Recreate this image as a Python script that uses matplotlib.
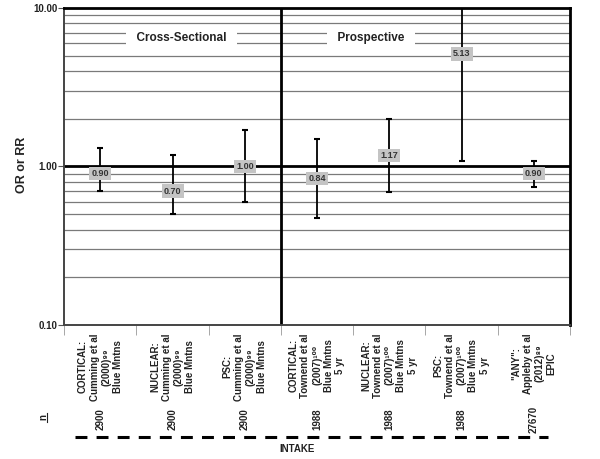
import numpy as np
import matplotlib
matplotlib.use('Agg')
import matplotlib.pyplot as plt
from matplotlib.ticker import LogLocator, FixedLocator, NullFormatter
from matplotlib.transforms import blended_transform_factory
from matplotlib.lines import Line2D

plt.rcParams['font.family'] = ['Liberation Sans', 'DejaVu Sans']

# study labels, sizes and estimates
labels = [
    "CORTICAL:\nCumming et al\n(2000)⁹⁹\nBlue Mntns",
    "NUCLEAR:\nCumming et al\n(2000)⁹⁹\nBlue Mntns",
    "PSC:\nCumming et al\n(2000)⁹⁹\nBlue Mntns",
    "CORTICAL:\nTownend et al\n(2007)¹⁰⁰\nBlue Mntns\n5 yr",
    "NUCLEAR:\nTownend et al\n(2007)¹⁰⁰\nBlue Mntns\n5 yr",
    "PSC:\nTownend et al\n(2007)¹⁰⁰\nBlue Mntns\n5 yr",
    "\"ANY\":\nAppleby et al\n(2012)⁸⁹\nEPIC",
]
n_vals = ["2900", "2900", "2900", "1988", "1988", "1988", "27670"]
est = [0.90, 0.70, 1.00, 0.84, 1.17, 5.13, 0.90]
lo = [0.70, 0.50, 0.60, 0.47, 0.69, 1.08, 0.74]
hi = [1.30, 1.19, 1.70, 1.50, 1.98, 10.0, 1.08]
sections = ["Cross-Sectional", "Prospective"]
section_x = [1.12, 3.75]

fig = plt.figure(figsize=(6, 4.59), dpi=100)
ax = fig.add_axes([0.107, 0.292, 0.843, 0.6906])

x = np.arange(len(est))
ax.set_yscale('log')
ax.set_ylim(0.1, 10)
ax.set_xlim(-0.5, len(est) - 0.5)

# gridlines
ax.yaxis.set_minor_locator(LogLocator(base=10, subs=np.arange(2, 10)))
ax.yaxis.set_minor_formatter(NullFormatter())
ax.grid(which='minor', axis='y', color='#7a7a7a', linewidth=0.9)
ax.axhline(1.0, color='black', linewidth=2, zorder=2)
ax.axvline(2.5, color='black', linewidth=2, zorder=2)

# error bars
yerr = [np.array(est) - np.array(lo), np.array(hi) - np.array(est)]
ax.errorbar(x, est, yerr=yerr, fmt='none', ecolor='black', elinewidth=1.3,
            capsize=2.5, capthick=1.5, zorder=3)
for i in range(len(est)):
    ax.text(x[i], est[i], "%.2f" % est[i], ha='center', va='center',
            fontsize=6.5, fontweight='bold', color='#333333', zorder=4,
            bbox=dict(boxstyle='square,pad=0.25', facecolor='#c4c4c4', edgecolor='none'))

# section headers
for s, sx in zip(sections, section_x):
    ax.text(sx, 6.5, "  " + s + "  ", ha='center', va='center', fontsize=8.5,
            fontweight='bold', color='#222222', zorder=4,
            bbox=dict(boxstyle='square,pad=0.35', facecolor='white', edgecolor='none'))

# ticks
ax.yaxis.set_major_locator(FixedLocator([0.1, 1, 10]))
ax.set_yticklabels(["0.10", "1.00", "10.00"], fontsize=7, fontweight='bold', color='#222222')
ax.tick_params(axis='y', which='major', length=4, width=0.8, color='#555555', pad=1)
ax.tick_params(axis='y', which='minor', length=0)
ax.set_xticks([])
ax.set_xticks(np.arange(-0.5, len(est)), minor=True)
ax.tick_params(axis='x', which='minor', length=7, width=0.6, color='#999999')

for side in ['top', 'right']:
    ax.spines[side].set_linewidth(2)
    ax.spines[side].set_color('black')
ax.spines['left'].set_linewidth(1.4)
ax.spines['left'].set_color('#444444')
ax.spines['bottom'].set_linewidth(1.4)
ax.spines['bottom'].set_color('#444444')

fig.text(0.037, 0.64, "OR or RR", rotation=90, ha='center', va='center',
         fontsize=9, fontweight='bold', color='#222222')

# category labels and n row
tr = blended_transform_factory(ax.transData, fig.transFigure)
for i in range(len(labels)):
    ax.text(x[i], 0.2745, labels[i], transform=tr, rotation=90, ha='center', va='top',
            multialignment='center', fontsize=7, fontweight='bold', linespacing=1.2,
            color='#222222')
    ax.text(x[i], 0.087, n_vals[i], transform=tr, rotation=90, ha='center', va='center',
            fontsize=7, fontweight='bold', color='#222222')

fig.text(0.072, 0.091, "n", rotation=90, ha='center', va='center', fontsize=7,
         fontweight='bold', color='#222222')
fig.add_artist(Line2D([0.078, 0.078], [0.081, 0.101], color='#222222', linewidth=0.8))

fig.add_artist(Line2D([0.125, 0.913], [0.048, 0.048], color='black', linewidth=2.2,
                      linestyle=(0, (3.9, 3.0))))
fig.text(0.495, 0.022, "INTAKE", ha='center', va='center', fontsize=7,
         fontweight='bold', color='#222222')

fig.savefig('out.png', dpi=100)
